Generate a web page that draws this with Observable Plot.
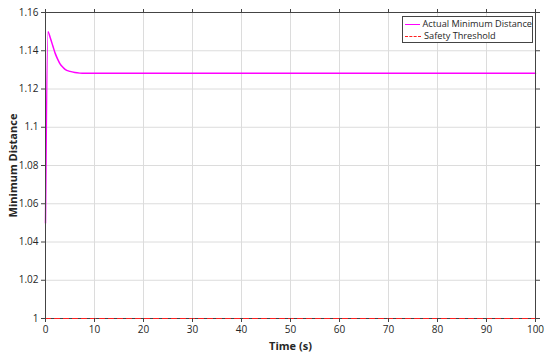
<!DOCTYPE html>
<html>
<head>
<meta charset="utf-8">
<script src="https://cdn.jsdelivr.net/npm/d3@7"></script>
<script src="https://cdn.jsdelivr.net/npm/@observablehq/plot@0.6"></script>
<style>
  html, body { margin: 0; padding: 0; background: #fff; }
  #wrap { position: relative; width: 550px; height: 357px; font-family: "Open Sans", "Noto Sans", sans-serif; }
  #wrap svg g[aria-label="x-axis label"] text,
  #wrap svg g[aria-label="y-axis label"] text { font-weight: bold; font-size: 11px; fill: #262626; }
  #legend {
    position: absolute; left: 402px; top: 16px; width: 131px; height: 27px;
    border: 1px solid #444; background: #fff; box-sizing: border-box;
    font-size: 9.2px; color: #262626; line-height: 12px; padding-top: 1px; white-space: nowrap;
  }
  .lg { display: flex; align-items: center; height: 12px; }
  .sw { width: 16px; margin-left: 2px; margin-right: 3px; height: 0; }
</style>
</head>
<body>
<div id="wrap"></div>
<script>
// Data
const time     = [0, 0.5, 1, 1.5, 2, 2.5, 3, 3.5, 4, 5, 6, 7, 8, 10, 20, 40, 60, 80, 100];
const distance = [1.05, 1.150, 1.1465, 1.1425, 1.1385, 1.1355, 1.133, 1.1315, 1.1303, 1.1292, 1.1286, 1.1283, 1.1282, 1.1282, 1.1282, 1.1282, 1.1282, 1.1282, 1.1282];
const thresholdTime  = [0, 100];
const thresholdValue = [1, 1];
const xTicks = [0, 10, 20, 30, 40, 50, 60, 70, 80, 90, 100];
const yTicks = [1, 1.02, 1.04, 1.06, 1.08, 1.1, 1.12, 1.14, 1.16];
const yTickLabels = ["1", "1.02", "1.04", "1.06", "1.08", "1.1", "1.12", "1.14", "1.16"];
const seriesNames = ["Actual Minimum Distance", "Safety Threshold"];

const actual = time.map((t, i) => ({t, v: distance[i]}));
const thresh = thresholdTime.map((t, i) => ({t, v: thresholdValue[i]}));
const axisColor = "#444";

const plot = Plot.plot({
  width: 550,
  height: 357,
  marginLeft: 45,
  marginRight: 15,
  marginTop: 12,
  marginBottom: 39,
  style: { fontFamily: "'Open Sans', 'Noto Sans', sans-serif", fontSize: "10px", color: "#262626", background: "#fff" },
  x: { domain: [0, 100] },
  y: { domain: [1, 1.16] },
  marks: [
    Plot.gridX(xTicks, { stroke: "#dcdcdc", strokeOpacity: 1, strokeWidth: 1 }),
    Plot.gridY(yTicks, { stroke: "#dcdcdc", strokeOpacity: 1, strokeWidth: 1 }),
    Plot.line(actual, { x: "t", y: "v", stroke: "#ff00ff", strokeWidth: 1.5, curve: "monotone-x" }),
    Plot.frame({ stroke: axisColor, strokeWidth: 1 }),
    Plot.line(thresh, { x: "t", y: "v", stroke: "#ff2020", strokeWidth: 1.2, strokeDasharray: "5,4" }),
    Plot.axisX({ anchor: "bottom", ticks: xTicks, tickSize: 4, tickPadding: 3, stroke: axisColor,
                 label: "Time (s)", labelAnchor: "center", labelArrow: "none", labelOffset: 31 }),
    Plot.axisX({ anchor: "top", ticks: xTicks, tickSize: 4, tickFormat: () => "", stroke: axisColor, label: null }),
    Plot.axisY({ anchor: "left", ticks: yTicks, tickSize: 4, tickPadding: 3, stroke: axisColor,
                 tickFormat: d => yTickLabels[yTicks.findIndex(y => Math.abs(y - d) < 1e-9)],
                 label: "Minimum Distance", labelAnchor: "center", labelArrow: "none", labelOffset: 36 }),
    Plot.axisY({ anchor: "right", ticks: yTicks, tickSize: 4, tickFormat: () => "", stroke: axisColor, label: null })
  ]
});
const wrap = document.getElementById("wrap");
wrap.appendChild(plot);

const legend = document.createElement("div");
legend.id = "legend";
legend.innerHTML =
  `<div class="lg"><span class="sw" style="border-top:1.5px solid #ff00ff"></span>${seriesNames[0]}</div>` +
  `<div class="lg"><span class="sw" style="border-top:1.2px dashed #ff2020"></span>${seriesNames[1]}</div>`;
wrap.appendChild(legend);
</script>
</body>
</html>
